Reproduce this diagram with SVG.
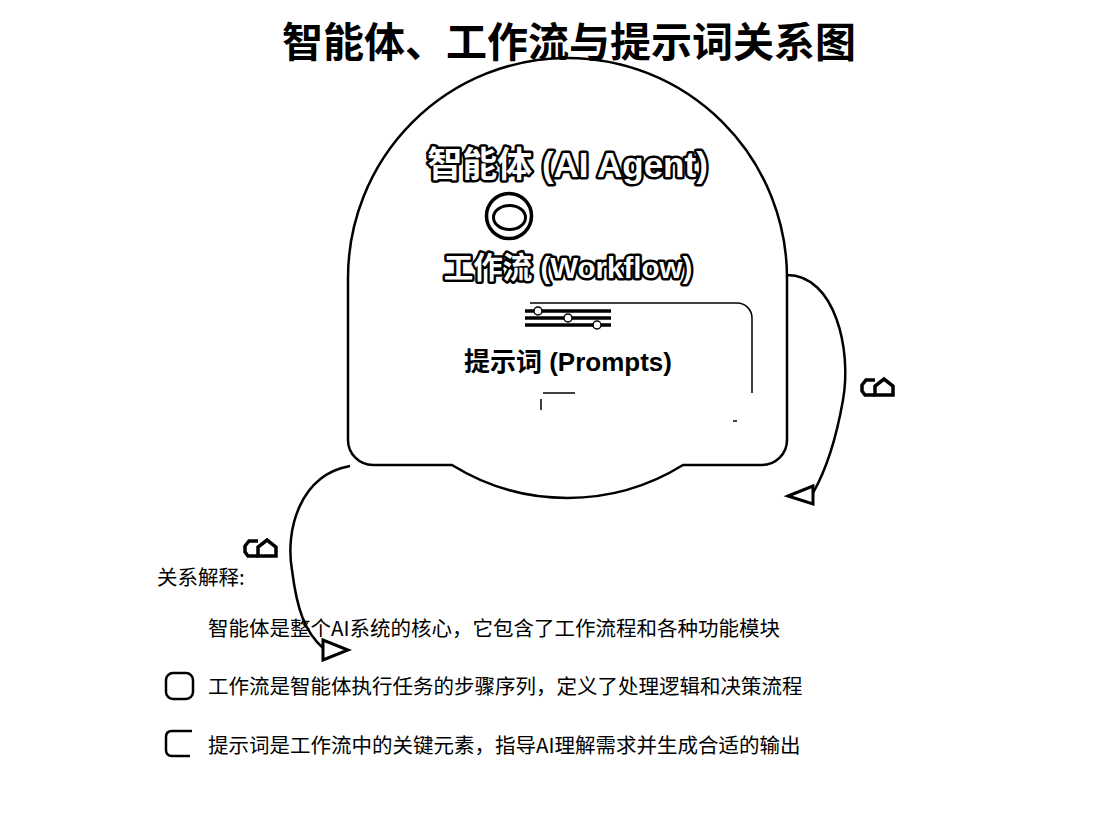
<svg xmlns="http://www.w3.org/2000/svg" width="1111" height="815" viewBox="0 0 1111 815">
  <style>
    .cjk { font-family: "Liberation Sans", "Noto Sans CJK SC", sans-serif; }
    .title { font-size: 41px; font-weight: 700; fill: #000; }
    .outl { font-weight: 700; fill: #fff; stroke: #000; stroke-width: 5; paint-order: stroke fill; stroke-linejoin: round; }
    .plain { font-weight: 700; fill: #000; }
    .leg { font-size: 20.5px; fill: #000; font-family: "Noto Sans CJK SC", sans-serif; }
    .line { fill: none; stroke: #000; stroke-width: 2.5; }
    .thin { fill: none; stroke: #000; stroke-width: 1.5; }
    .arrowhead { fill: #fff; stroke: #000; stroke-width: 3; stroke-linejoin: miter; }
    .icon { fill: none; stroke: #000; stroke-width: 3.5; stroke-linejoin: miter; }
  </style>
  <defs>
    <g id="swapIcon">
      <path class="icon" d="M15,3 H6 L2,8 V14 L5,18 H15"/>
      <path class="icon" d="M15,18 V9 L24,2 L33,9 V18 Z"/>
    </g>
  </defs>
  <rect width="1111" height="815" fill="#fff"/>

  <g id="node-agent">
    <path class="line" d="M348,278 A219.5,220 0 0 1 787,278 L787,440 A25,25 0 0 1 762,465 L683,465 A219.5,220 0 0 1 452,465 L373,465 A25,25 0 0 1 348,440 Z"/>
    <text class="cjk outl" x="567.5" y="177" font-size="35" text-anchor="middle">智能体 (AI Agent)</text>
    <g id="agent-icon">
      <circle cx="509" cy="216" r="22.5" fill="#fff" stroke="#000" stroke-width="3.5"/>
      <ellipse cx="509.5" cy="217.5" rx="16" ry="12" fill="#fff" stroke="#000" stroke-width="3"/>
    </g>
  </g>

  <g id="node-workflow">
    <text class="cjk outl" x="568" y="278" font-size="29.5" text-anchor="middle">工作流 (Workflow)</text>
  </g>

  <g id="node-prompts">
    <path class="thin" d="M530,303 H737 A15,15 0 0 1 752,318 V393"/>
    <path class="thin" d="M541,410 V399 M543,393 H575 M733,421 H737"/>
    <g id="slider-icon">
      <line x1="525" y1="311" x2="611" y2="311" stroke="#000" stroke-width="3.5"/>
      <line x1="525" y1="318" x2="611" y2="318" stroke="#000" stroke-width="3.5"/>
      <line x1="525" y1="325" x2="611" y2="325" stroke="#000" stroke-width="3.5"/>
      <circle cx="538" cy="311" r="4" fill="#fff" stroke="#000" stroke-width="1.5"/>
      <circle cx="568" cy="318" r="4" fill="#fff" stroke="#000" stroke-width="1.5"/>
      <circle cx="597" cy="325" r="4" fill="#fff" stroke="#000" stroke-width="1.5"/>
    </g>
    <text class="cjk plain" x="568" y="371" font-size="26" text-anchor="middle">提示词 (Prompts)</text>
  </g>

  <g id="connectors">
    <path class="line" d="M787,275 C835,275 852,350 843,400 C836,440 826,470 813,493"/>
    <polygon class="arrowhead" points="788,496 813,486 813,504"/>
    <use href="#swapIcon" x="860" y="377"/>
    <path class="line" d="M350,466 C300,475 285,530 292,570 C297,610 305,632 323,648"/>
    <polygon class="arrowhead" points="323,640 323,660 348,650"/>
    <use href="#swapIcon" x="243" y="538"/>
  </g>

  <g id="title">
    <text class="cjk title" x="569" y="57" text-anchor="middle">智能体、工作流与提示词关系图</text>
  </g>

  <g id="legend">
    <text class="leg" x="157" y="585">关系解释:</text>
    <text class="leg" x="208" y="636">智能体是整个AI系统的核心，它包含了工作流程和各种功能模块</text>
    <rect x="166" y="673" width="27" height="26" rx="7" fill="none" stroke="#000" stroke-width="2.5"/>
    <text class="leg" x="208" y="694">工作流是智能体执行任务的步骤序列，定义了处理逻辑和决策流程</text>
    <path d="M192,731 H172 Q166,731 166,737 V750 Q166,756 172,756 H190" fill="none" stroke="#000" stroke-width="2.5"/>
    <text class="leg" x="208" y="753">提示词是工作流中的关键元素，指导AI理解需求并生成合适的输出</text>
  </g>
</svg>
